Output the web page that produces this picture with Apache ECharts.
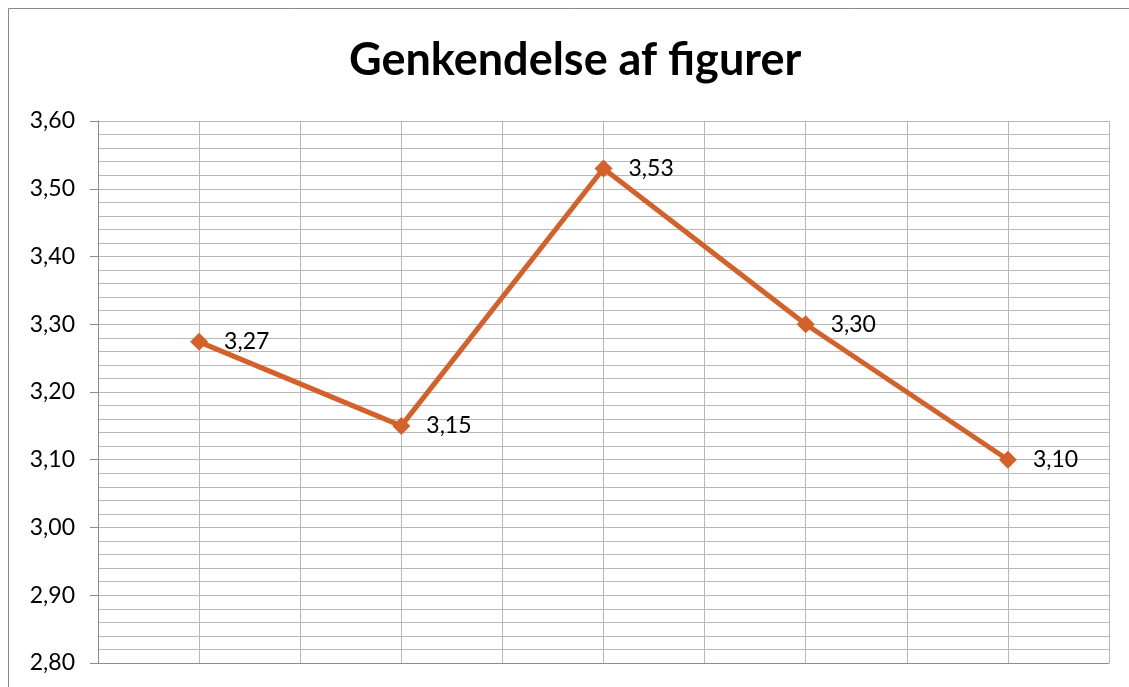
<!DOCTYPE html>
<html>
<head>
<meta charset="utf-8">
<script src="https://cdn.jsdelivr.net/npm/echarts@6/dist/echarts.min.js"></script>
<style>html,body{margin:0;padding:0;background:#fff}#c{width:1129px;height:687px}</style>
</head>
<body>
<div id="c"></div>
<script>
const titleText = 'Genkendelse af figurer';
const xPositions = [1, 3, 5, 7, 9];
const values = [3.274, 3.15, 3.53, 3.30, 3.10];
const yTicks = { min: 2.8, max: 3.6, interval: 0.1 };

const chart = echarts.init(document.getElementById('c'), null, { renderer: 'canvas' });
const fmt = v => v.toFixed(2).replace('.', ',');
const font = 'Lato, "Noto Sans", sans-serif';
chart.setOption({
  animation: false,
  backgroundColor: '#fff',
  title: {
    text: titleText, left: 344, top: 33,
    textStyle: { fontFamily: font, fontWeight: 'bold', fontSize: 45, color: '#000' }
  },
  graphic: [{
    type: 'rect', shape: { x: 8.5, y: 8.5, width: 1200, height: 800 },
    style: { fill: 'none', stroke: '#898989', lineWidth: 1 }, silent: true, z: 0
  }],
  grid: { left: 98, right: 20, top: 121, bottom: 24 },
  xAxis: {
    type: 'value', min: 0, max: 10, interval: 1,
    axisLine: { show: true, onZero: false, lineStyle: { color: '#8c8c8c', width: 1 } },
    axisTick: { show: false }, axisLabel: { show: false },
    splitLine: { show: true, lineStyle: { color: '#b8b8b8', width: 1 } }
  },
  yAxis: {
    type: 'value', min: yTicks.min, max: yTicks.max, interval: yTicks.interval,
    axisLine: { show: true, lineStyle: { color: '#8c8c8c', width: 1 } },
    axisTick: { show: true, length: 8, lineStyle: { color: '#8c8c8c' } },
    axisLabel: { formatter: fmt, fontFamily: font, fontSize: 23, color: '#000', margin: 23 },
    splitLine: { show: true, lineStyle: { color: '#b8b8b8', width: 1 } },
    minorTick: { show: false, splitNumber: 5 },
    minorSplitLine: { show: true, lineStyle: { color: '#b8b8b8', width: 1 } }
  },
  series: [{
    type: 'line',
    data: xPositions.map((x, i) => [x, values[i]]),
    symbol: 'diamond', symbolSize: 18,
    lineStyle: { color: '#D4602A', width: 5 },
    itemStyle: { color: '#D4602A' },
    label: {
      show: true, position: 'right', distance: 16,
      formatter: p => fmt(p.value[1]),
      fontFamily: font, fontSize: 23, color: '#000'
    },
    z: 5
  }]
});
</script>
</body>
</html>
